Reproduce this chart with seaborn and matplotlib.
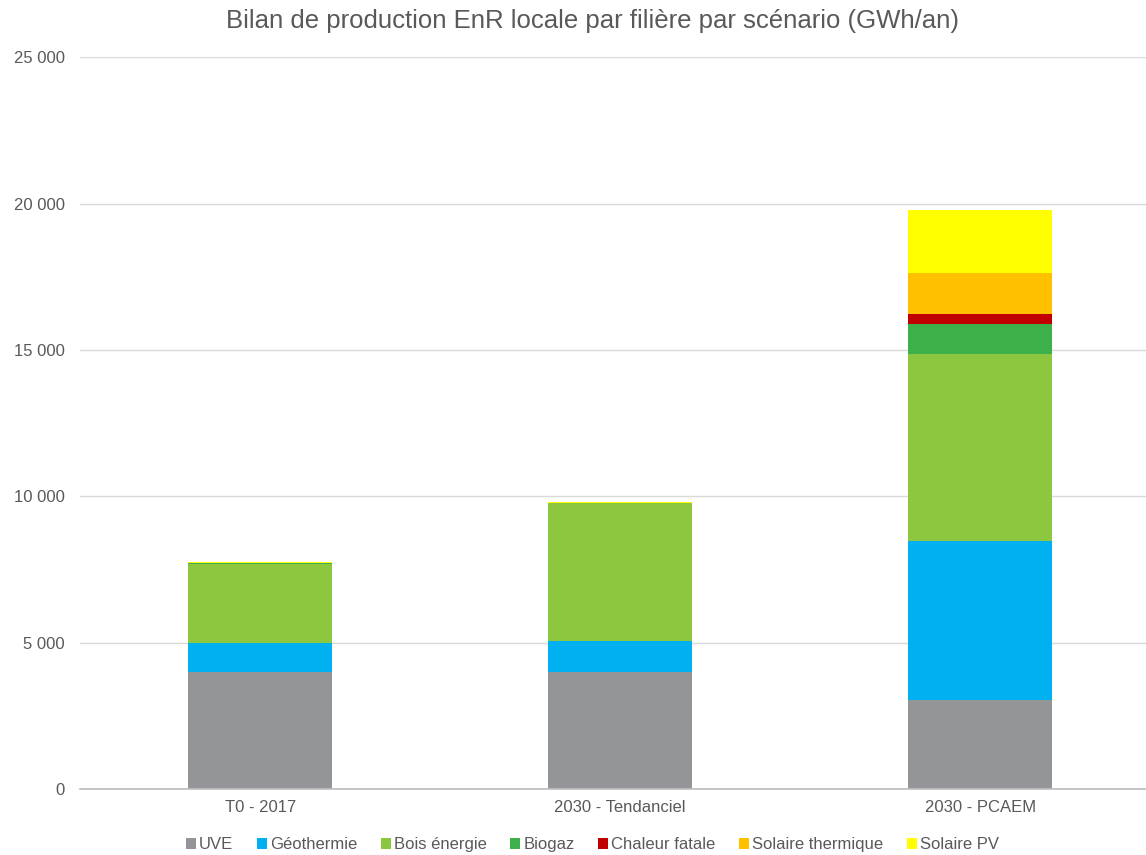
"""Stacked bar chart: local renewable energy production by sector and scenario."""

import matplotlib

matplotlib.use("Agg")

import matplotlib.pyplot as plt
import numpy as np
import pandas as pd
import seaborn as sns
from matplotlib.patches import Patch
from matplotlib.ticker import FuncFormatter

scenarios = ["T0 - 2017", "2030 - Tendanciel", "2030 - PCAEM"]
filieres = ["UVE", "Géothermie", "Bois énergie", "Biogaz", "Chaleur fatale",
            "Solaire thermique", "Solaire PV"]

uve = [4000, 4000, 3060]
geothermie = [990, 1055, 5410]
bois_energie = [2690, 4720, 6410]
biogaz = [40, 0, 1000]
chaleur_fatale = [0, 0, 340]
solaire_thermique = [0, 0, 1400]
solaire_pv = [30, 30, 2150]

colors = ["#939598", "#00B0F0", "#8DC63F", "#3CB04A", "#C00000", "#FFC000", "#FFFF00"]

sns.set_theme(style="white")
plt.rcParams["font.family"] = ["Liberation Sans", "DejaVu Sans"]
text_color = "#595959"

df = pd.DataFrame(
    {
        "UVE": uve,
        "Géothermie": geothermie,
        "Bois énergie": bois_energie,
        "Biogaz": biogaz,
        "Chaleur fatale": chaleur_fatale,
        "Solaire thermique": solaire_thermique,
        "Solaire PV": solaire_pv,
    },
    index=scenarios,
)

fig, ax = plt.subplots(figsize=(11.46, 8.55), dpi=100)
fig.subplots_adjust(left=0.07, right=1.0, top=0.933, bottom=0.077)

bottom = np.zeros(len(scenarios))
for filiere, color in zip(filieres, colors):
    sns.barplot(
        x=scenarios,
        y=df[filiere].values,
        bottom=bottom,
        color=color,
        width=0.4,
        saturation=1,
        linewidth=0,
        ax=ax,
    )
    bottom = bottom + df[filiere].values

ax.set_ylim(0, 25000)
ax.set_xlim(-0.5, 2.461)
ax.set_yticks(np.arange(0, 25001, 5000))
ax.yaxis.set_major_formatter(FuncFormatter(lambda v, _: f"{int(v):,}".replace(",", " ")))
ax.grid(axis="y", color="#d9d9d9", linewidth=1)
ax.set_axisbelow(True)
for side in ["top", "right", "left"]:
    ax.spines[side].set_visible(False)
ax.spines["bottom"].set_color("#bfbfbf")
ax.tick_params(axis="both", colors=text_color, labelsize=12, length=0)
ax.tick_params(axis="y", pad=11)
ax.tick_params(axis="x", pad=8)
ax.set_xlabel("")
ax.set_ylabel("")

fig.suptitle("Bilan de production EnR locale par filière par scénario (GWh/an)",
             x=0.517, y=0.99, fontsize=18.5, color=text_color)

handles = [Patch(facecolor=c, edgecolor="none", label=f) for f, c in zip(filieres, colors)]
fig.legend(
    handles=handles,
    loc="center",
    bbox_to_anchor=(0.517, 0.012),
    ncol=7,
    frameon=False,
    fontsize=12,
    handlelength=0.6,
    handleheight=0.6,
    handletextpad=0.2,
    columnspacing=1.4,
    labelcolor=text_color,
)

fig.savefig("out.png", dpi=100)
